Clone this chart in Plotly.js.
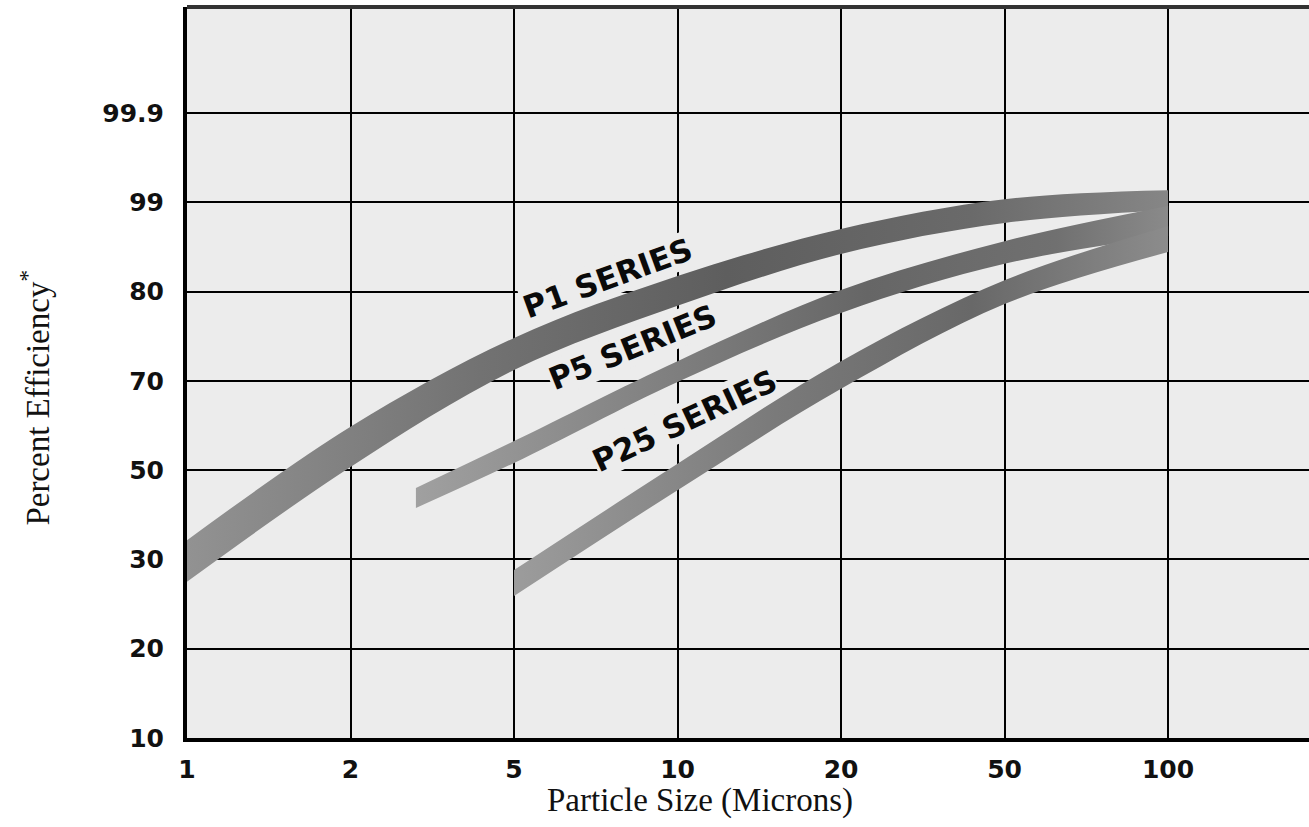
<!DOCTYPE html>
<html>
<head>
<meta charset="utf-8">
<script src="https://cdn.plot.ly/plotly-3.0.1.min.js"></script>
<style>
  html, body { margin: 0; padding: 0; background: #ffffff; }
  #chart { width: 1309px; height: 827px; }
</style>
</head>
<body>
<div id="chart"></div>
<script>
// ---- Axis tick values (the chart uses an evenly spaced, non-linear grid) ----
const sizeTicks = [1, 2, 5, 10, 20, 50, 100];               // Particle size, microns
const pctTicks  = [10, 20, 30, 50, 70, 80, 99, 99.9];        // Percent efficiency

// ---- P1 SERIES band ----
const p1Size  = [1, 2, 5, 10, 20, 50, 100];
const p1Upper = [34.3, 59.7, 74.8, 83.3, 93.3, 99.03, 99.12];
const p1Lower = [27.5, 50.7, 71.2, 78.4, 88.0, 94.6, 97.3];

// ---- P5 SERIES band ----
const p5Size  = [3.2, 5, 10, 20, 50, 100];
const p5Upper = [46.0, 56.5, 72.2, 80.3, 90.7, 98.2];
const p5Lower = [41.5, 51.6, 69.75, 77.6, 85.9, 91.8];

// ---- P25 SERIES band ----
const p25Size  = [5, 10, 20, 50, 100];
const p25Upper = [28.8, 51.4, 72.2, 82.4, 93.9];
const p25Lower = [25.9, 45.5, 68.2, 78.6, 88.4];

const seriesLabels = ["P1 SERIES", "P5 SERIES", "P25 SERIES"];

// Piecewise-linear position of a value on the chart's evenly spaced grid
function toIdx(v, ticks) {
  const n = ticks.length;
  for (let i = 0; i < n - 1; i++) {
    if (v <= ticks[i + 1] || i === n - 2) {
      return i + (v - ticks[i]) / (ticks[i + 1] - ticks[i]);
    }
  }
}
const X = arr => arr.map(v => toIdx(v, sizeTicks));
const Y = arr => arr.map(v => toIdx(v, pctTicks));

function band(sizes, lower, upper, colors, name) {
  const lo = {
    x: X(sizes), y: Y(lower), type: 'scatter', mode: 'lines',
    line: { width: 0, shape: 'spline', smoothing: 1 },
    hoverinfo: 'skip', showlegend: false, name: name + ' lower'
  };
  const hi = {
    x: X(sizes), y: Y(upper), type: 'scatter', mode: 'lines',
    line: { width: 0, shape: 'spline', smoothing: 1 },
    fill: 'tonexty', fillcolor: colors[1][1],
    fillgradient: { type: 'horizontal', colorscale: colors },
    hoverinfo: 'skip', showlegend: false, name: name
  };
  return [lo, hi];
}

const traces = [].concat(
  band(p1Size, p1Lower, p1Upper,
       [[0, '#929292'], [0.3, '#727272'], [0.55, '#5e5e5e'], [0.8, '#6a6a6a'], [1, '#868686']], 'P1'),
  band(p5Size, p5Lower, p5Upper,
       [[0, '#a0a0a0'], [0.35, '#7e7e7e'], [0.6, '#666666'], [0.85, '#707070'], [1, '#8a8a8a']], 'P5'),
  band(p25Size, p25Lower, p25Upper,
       [[0, '#9c9c9c'], [0.4, '#7a7a7a'], [0.7, '#686868'], [1, '#8c8c8c']], 'P25')
);

const bg = '#ececec';
const labelFont = { family: 'DejaVu Sans, Arial, sans-serif', size: 31, weight: 'bold', color: '#0a0a0a' };
const tickFont = { family: 'DejaVu Sans, Arial, sans-serif', size: 25, weight: 'bold', color: '#111111' };
const serif = 'Liberation Serif, Times New Roman, serif';

const layout = {
  width: 1309, height: 827,
  margin: { l: 187, r: 0, t: 7, b: 89, pad: 0 },
  paper_bgcolor: '#ffffff',
  plot_bgcolor: bg,
  showlegend: false,
  hovermode: false,
  xaxis: {
    range: [0, 6.862],
    tickmode: 'array',
    tickvals: sizeTicks.map((v, i) => i),
    ticktext: sizeTicks.map(String),
    showgrid: true, gridcolor: '#000000', gridwidth: 2,
    zeroline: false,
    showline: true, linecolor: '#000000', linewidth: 4,
    ticks: 'outside', ticklen: 6, tickcolor: 'rgba(0,0,0,0)',
    tickfont: tickFont,
    fixedrange: true
  },
  yaxis: {
    range: [0, 8.186],
    tickmode: 'array',
    tickvals: pctTicks.map((v, i) => i),
    ticktext: pctTicks.map(String),
    showgrid: true, gridcolor: '#000000', gridwidth: 2,
    zeroline: false,
    showline: true, linecolor: '#000000', linewidth: 4,
    ticks: 'outside', ticklen: 14, tickcolor: 'rgba(0,0,0,0)',
    tickfont: tickFont,
    fixedrange: true
  },
  shapes: [
    { type: 'line', xref: 'paper', yref: 'paper', x0: 0, x1: 1, y0: 1, y1: 1,
      line: { color: '#333333', width: 4 } }
  ],
  annotations: [
    { text: seriesLabels[0], xref: 'paper', yref: 'paper', x: 0.375, y: 0.629,
      showarrow: false, textangle: -20, font: labelFont, bgcolor: bg, borderpad: 0 },
    { text: seriesLabels[1], xref: 'paper', yref: 'paper', x: 0.3975, y: 0.5345,
      showarrow: false, textangle: -22, font: labelFont, bgcolor: bg, borderpad: 0 },
    { text: seriesLabels[2], xref: 'paper', yref: 'paper', x: 0.443, y: 0.434,
      showarrow: false, textangle: -25, font: labelFont, bgcolor: bg, borderpad: 0 },
    { text: 'Particle Size (Microns)', xref: 'paper', yref: 'paper',
      x: 0.457, y: -0.085, xanchor: 'center', yanchor: 'middle', showarrow: false,
      font: { family: serif, size: 33, color: '#111111' } },
    { text: 'Percent Efficiency<sup>*</sup>', xref: 'paper', yref: 'paper',
      x: -0.135, y: 0.465, xanchor: 'center', yanchor: 'middle', showarrow: false,
      textangle: -90,
      font: { family: serif, size: 33, color: '#111111' } }
  ]
};

Plotly.newPlot('chart', traces, layout, { displayModeBar: false, staticPlot: true });
</script>
</body>
</html>
